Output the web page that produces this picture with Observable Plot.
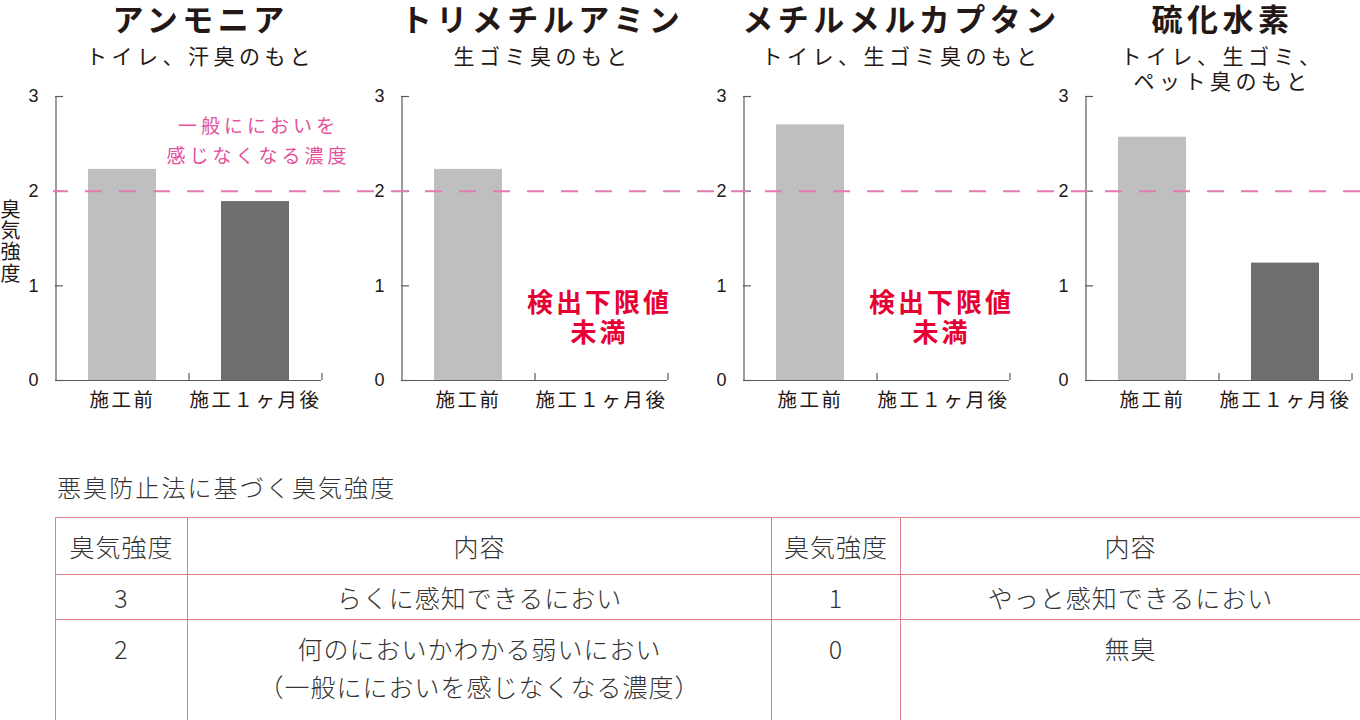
<!DOCTYPE html>
<html>
<head>
<meta charset="utf-8">
<script src="https://cdn.jsdelivr.net/npm/d3@7"></script>
<script src="https://cdn.jsdelivr.net/npm/@observablehq/plot@0.6"></script>
<style>
  html, body { margin: 0; padding: 0; background: #fff; }
  body { width: 1360px; height: 720px; overflow: hidden; position: relative;
         font-family: "Noto Sans CJK JP", "Noto Sans", sans-serif; color: #231815; }
  .panel { position: absolute; top: 0; }
  .panel svg { overflow: visible; }
  #ylab { position: absolute; left: 0; top: 199px; font-size: 20px; line-height: 21px;
          writing-mode: vertical-rl; text-orientation: upright; letter-spacing: 1.4px; color: #231815; }
  #ttitle { position: absolute; left: 57px; top: 471px; font-size: 24px; line-height: 32px;
            letter-spacing: 2.1px; font-weight: 300; color: #333; }
  #tbl { position: absolute; left: 55px; top: 517px; width: 1305px; border-collapse: collapse;
         table-layout: fixed; font-size: 25px; font-weight: 300; color: #333; }
  #tbl td { border: 1px solid #de7f8a; text-align: center; padding: 0; letter-spacing: 1px; }
  #tbl tr.h td { height: 56px; vertical-align: middle; }
  #tbl tr.r1 td { height: 44px; vertical-align: middle; }
  #tbl tr.r2 td { height: 98px; vertical-align: top; padding-top: 9px; line-height: 38px; white-space: pre-line; }
</style>
</head>
<body>
<div id="charts"></div>
<div id="ylab"></div>
<div id="ttitle"></div>
<table id="tbl"></table>
<script>
// ---------------- data ----------------
const compounds = ["アンモニア", "トリメチルアミン", "メチルメルカプタン", "硫化水素"];
const subtitles = ["トイレ、汗臭のもと", "生ゴミ臭のもと", "トイレ、生ゴミ臭のもと", "トイレ、生ゴミ、\nペット臭のもと"];
const periods = ["施工前", "施工１ヶ月後"];
const beforeValues = [2.23, 2.23, 2.70, 2.57];
const afterValues = [1.89, 0, 0, 1.24];
const belowLimit = [false, true, true, false];
const yTicks = [0, 1, 2, 3];
const threshold = 2;
const thresholdNote = "一般ににおいを\n感じなくなる濃度";
const limitNote = "検出下限値\n未満";
const yLabel = "臭気強度";

const tableTitle = "悪臭防止法に基づく臭気強度";
const tableHeaders = ["臭気強度", "内容", "臭気強度", "内容"];
const levelsLeft = [3, 2];
const descLeft = ["らくに感知できるにおい", "何のにおいかわかる弱いにおい\n（一般ににおいを感じなくなる濃度）"];
const levelsRight = [1, 0];
const descRight = ["やっと感知できるにおい", "無臭"];

// ---------------- layout / style ----------------
const axisPos = [55, 400.5, 743, 1084.5];
const titleDx = [12, 8, 25, 4];
const frameW = 266, mL = 55, mR = 9, H = 420, mT = 96, mB = 40;
const halfStep = frameW / 4; // 2 bands, paddingInner = 2*paddingOuter -> step = frameW/2
const jp = "'Noto Sans CJK JP', 'Noto Sans', sans-serif";
const num = "'Liberation Sans', Arial, sans-serif";
const ink = "#231815";
const axisInk = "#5a5a5a";

const spacing = new Map();
compounds.forEach(c => spacing.set(c, "4.5px"));
subtitles.forEach(s => spacing.set(s.replace(/\n/g, ""), "4.5px"));
periods.forEach(p => spacing.set(p, "2.5px"));
spacing.set(thresholdNote.replace(/\n/g, ""), "4px");
spacing.set(limitNote.replace(/\n/g, ""), "3px");

const charts = document.getElementById("charts");
compounds.forEach((name, i) => {
  const data = periods.map((p, j) => ({period: p, value: j === 0 ? beforeValues[i] : afterValues[i]}));
  const subLines = subtitles[i].split("\n").length;
  const marks = [
    Plot.barY(data, {x: "period", y: "value", fill: "period"}),
    Plot.ruleY([0], {stroke: axisInk, strokeWidth: 1.2}),
    Plot.ruleX([periods[0]], {x: d => d, y1: 0, y2: 3, dx: -halfStep, stroke: axisInk, strokeWidth: 1.2}),
    Plot.ruleX([periods[1]], {x: d => d, y1: 0, y2: 0.075, dx: -halfStep, stroke: axisInk, strokeWidth: 1.2}),
    Plot.ruleX([periods[1]], {x: d => d, y1: 0, y2: 0.075, dx: halfStep, stroke: axisInk, strokeWidth: 1.2}),
    Plot.tickY(yTicks, {y: d => d, insetRight: frameW - 8, stroke: axisInk, strokeWidth: 1.2}),
    Plot.axisY({ticks: yTicks, tickSize: 0, tickPadding: 17, fontSize: 18, fontFamily: num, fill: ink,
                tickFormat: d => String(d), label: null}),
    Plot.axisX({tickSize: 0, tickPadding: 13, fontSize: 19.5, fontFamily: jp, fill: ink, label: null}),
    Plot.text([name], {text: d => d, frameAnchor: "top", dy: -75, dx: titleDx[i], lineAnchor: "middle",
                       fontSize: 31, fontWeight: 700, fontFamily: jp, fill: ink}),
    Plot.text([subtitles[i]], {text: d => d, frameAnchor: "top", dy: -41 + (subLines - 1) * 12.5, dx: titleDx[i],
                       lineAnchor: "middle", lineHeight: 1.19, fontSize: 21, fontFamily: jp, fill: ink}),
    Plot.text(belowLimit[i] ? [limitNote] : [], {text: d => d, x: () => periods[1], y: 0.665, dx: -2, lineAnchor: "middle",
                       lineHeight: 1.15, fontSize: 26, fontWeight: 700, fontFamily: jp, fill: "#e60033"})
  ];
  if (i === 0) {
    marks.push(
      Plot.text([thresholdNote], {text: d => d, x: () => periods[1], y: 2.556, dx: 3, lineAnchor: "middle",
                       lineHeight: 1.58, fontSize: 19, fontFamily: jp, fill: "#e4519c"}),
      Plot.ruleY([threshold], {stroke: "#e37bb3", strokeWidth: 2, strokeDasharray: "17,17", strokeDashoffset: 2,
                       insetRight: -(1360 - (axisPos[0] + frameW)), insetLeft: -2})
    );
  }
  const svg = Plot.plot({
    width: mL + frameW + mR, height: H,
    marginLeft: mL, marginRight: mR, marginTop: mT, marginBottom: mB,
    x: {domain: periods, paddingInner: 0.49, paddingOuter: 0.245, axis: null},
    y: {domain: [0, 3], axis: null},
    color: {domain: periods, range: ["#bfbfbf", "#6f6f6f"]},
    style: {background: "transparent", overflow: "visible", fontFamily: jp, color: ink},
    marks
  });
  svg.querySelectorAll("text").forEach(t => {
    const s = spacing.get(t.textContent);
    if (s) t.style.letterSpacing = s;
  });
  const div = document.createElement("div");
  div.className = "panel";
  div.style.left = (axisPos[i] - mL) + "px";
  div.style.zIndex = i === 0 ? 10 : 1;
  div.appendChild(svg);
  charts.appendChild(div);
});

document.getElementById("ylab").textContent = yLabel;
document.getElementById("ttitle").textContent = tableTitle;

// table
const tbl = d3.select("#tbl");
const cg = tbl.append("colgroup");
[132, 584, 129, 460].forEach(w => cg.append("col").style("width", w + "px"));
const hr = tbl.append("tr").attr("class", "h");
tableHeaders.forEach(h => hr.append("td").text(h));
levelsLeft.forEach((lv, r) => {
  const tr = tbl.append("tr").attr("class", r === 0 ? "r1" : "r2");
  tr.append("td").text(lv);
  tr.append("td").text(descLeft[r]);
  tr.append("td").text(levelsRight[r]);
  tr.append("td").text(descRight[r]);
});
</script>
</body>
</html>
